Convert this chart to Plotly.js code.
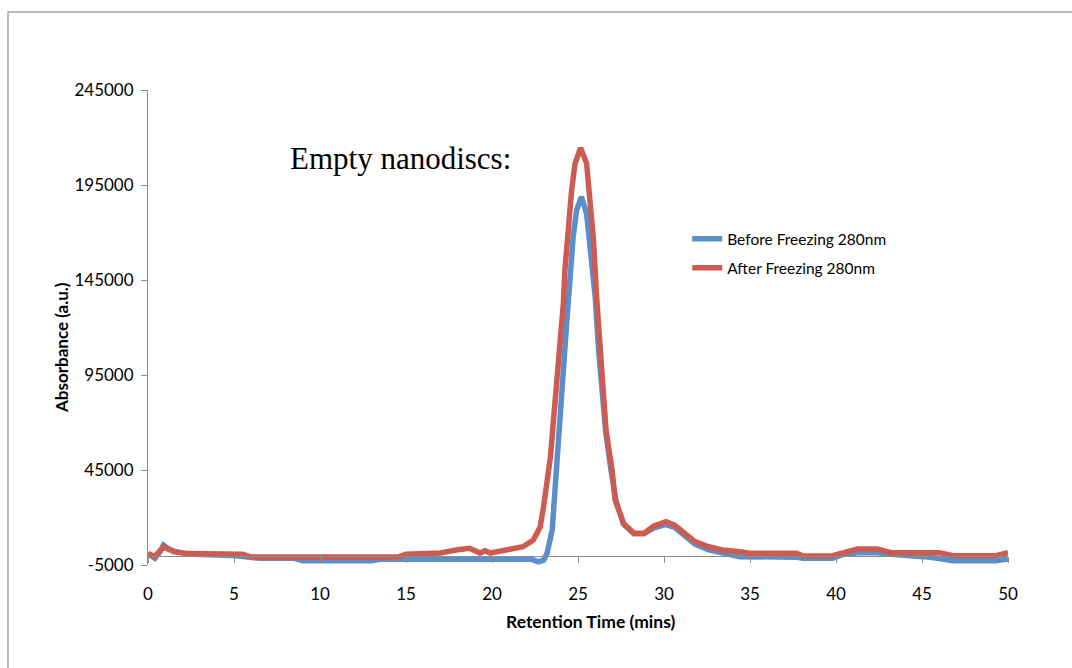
<!DOCTYPE html>
<html>
<head>
<meta charset="utf-8">
<script src="https://cdn.plot.ly/plotly-3.0.1.min.js"></script>
<style>html,body{margin:0;padding:0;background:#fff;}#chart{width:1072px;height:668px;}</style>
</head>
<body>
<div id="chart"></div>
<script>
// Before Freezing 280nm
var beforeTime = [0, 0.4, 0.7, 0.9, 1.2, 1.6, 2.2, 3, 5, 6, 6.5, 8.5, 9, 13, 13.5, 22.3, 22.7, 23.0, 23.2, 23.5, 23.66, 23.85, 23.95, 24.15, 24.34, 24.53, 24.72, 24.92, 25.2, 25.5, 25.7, 26.0, 26.2, 26.37, 26.6, 26.9, 27.2, 27.65, 28.25, 28.84, 29.42, 30.1, 30.62, 31.2, 31.8, 32.6, 33.4, 34.4, 37.7, 38.1, 39.8, 40.5, 41.3, 42.4, 43.2, 45.5, 46.8, 49.3, 50];
var beforeAbs = [1000, -1500, 2000, 5500, 3500, 2000, 1000, 500, 0, -800, -1500, -1500, -2700, -2700, -2000, -2000, -3300, -2500, 1150, 13400, 36000, 60800, 69600, 97600, 122200, 145000, 167800, 181800, 188800, 180000, 164200, 136200, 108000, 87100, 66000, 46000, 29000, 16500, 11500, 11500, 14500, 16200, 14800, 10500, 6000, 3000, 1150, -600, -900, -1500, -1500, 800, 1500, 1500, 700, -900, -2700, -2700, -1800];

// After Freezing 280nm
var afterTime = [0, 0.4, 0.9, 1.5, 2.3, 5.5, 6, 14.5, 15, 16.5, 17, 18, 18.7, 19.3, 19.6, 19.9, 20.85, 21.8, 22.4, 22.8, 23.0, 23.2, 23.4, 23.56, 23.76, 23.95, 24.15, 24.24, 24.43, 24.63, 24.83, 25.15, 25.5, 25.7, 25.9, 26.08, 26.28, 26.47, 26.63, 26.98, 27.16, 27.65, 28.25, 28.84, 29.42, 30.12, 30.62, 31.2, 31.8, 32.6, 33.4, 34.4, 34.95, 37.7, 38.1, 39.7, 40.5, 41.25, 42.4, 43.2, 46, 46.8, 49.3, 49.9, 50];
var afterAbs = [1000, -500, 4500, 2000, 1000, 600, -800, -800, 700, 1300, 1300, 3000, 3800, 1300, 2500, 1300, 3250, 4600, 8150, 15000, 25700, 39700, 52000, 69600, 90600, 111700, 132700, 150300, 171300, 192400, 206400, 214500, 206400, 188800, 166000, 136200, 109900, 83600, 66000, 45000, 29200, 16900, 11700, 11700, 15500, 17800, 16000, 11700, 7300, 4600, 2900, 2000, 1150, 1150, -300, -300, 2000, 3400, 3400, 1500, 1500, -100, -100, 1150, 1500];

var seriesNames = ["Before Freezing 280nm", "After Freezing 280nm"];
var yTicks = [-5000, 45000, 95000, 145000, 195000, 245000];
var xTicks = [0, 5, 10, 15, 20, 25, 30, 35, 40, 45, 50];

var font = "Lato, 'Open Sans', sans-serif";
var axisGray = "#8c8c8c";

var traces = [
  {x: beforeTime, y: beforeAbs, name: seriesNames[0], mode: "lines", legendgroup: "a",
   line: {color: "#5a8fcb", width: 5.5}},
  {x: afterTime, y: afterAbs, name: seriesNames[1], mode: "lines", legendgroup: "b",
   line: {color: "#cc5c52", width: 5.5}}
];

var layout = {
  width: 1072, height: 668,
  margin: {l: 148, r: 64, t: 90, b: 103},
  paper_bgcolor: "#ffffff", plot_bgcolor: "#ffffff",
  showlegend: true,
  legend: {x: 0.627, y: 0.722, xanchor: "left", yanchor: "top", bgcolor: "rgba(0,0,0,0)",
           font: {family: font, size: 15.5, color: "#000"}, traceorder: "grouped", tracegroupgap: 6},
  xaxis: {range: [0, 50], tickvals: xTicks, anchor: "free", position: 0.02,
          ticks: "outside", ticklen: 6, tickcolor: axisGray, ticklabelstandoff: 17,
          showline: true, linecolor: axisGray, linewidth: 1, showgrid: false, zeroline: false,
          tickfont: {family: font, size: 17, color: "#000"}},
  yaxis: {range: [-5000, 245000], tickvals: yTicks, ticktext: yTicks.map(String), ticks: "outside", ticklen: 6,
          tickcolor: axisGray, ticklabelstandoff: 4, showline: true, linecolor: axisGray, linewidth: 1,
          showgrid: false, zeroline: false,
          tickfont: {family: font, size: 17, color: "#000"}},
  annotations: [
    {text: "Empty nanodiscs:", xref: "paper", yref: "paper", x: 0.294, y: 0.855, xanchor: "center", yanchor: "middle",
     showarrow: false, font: {family: "'Liberation Serif', 'Times New Roman', serif", size: 31, color: "#000"}},
    {text: "<b>Retention Time (mins)</b>", xref: "paper", yref: "paper", x: 0.515, y: -0.118,
     xanchor: "center", yanchor: "middle", showarrow: false, font: {family: font, size: 17.5, color: "#000"}},
    {text: "<b>Absorbance (a.u.)</b>", xref: "paper", yref: "paper", x: -0.1, y: 0.457, textangle: -90,
     xanchor: "center", yanchor: "middle", showarrow: false, font: {family: font, size: 17, color: "#000"}}
  ],
  shapes: [
    {type: "rect", xref: "paper", yref: "paper", x0: -0.1628, x1: 1.08, y0: -0.23, y1: 1.164,
     line: {color: "#a6a6a6", width: 1.5}, fillcolor: "rgba(0,0,0,0)", layer: "below"}
  ]
};

Plotly.newPlot("chart", traces, layout, {displayModeBar: false, staticPlot: true});
</script>
</body>
</html>
